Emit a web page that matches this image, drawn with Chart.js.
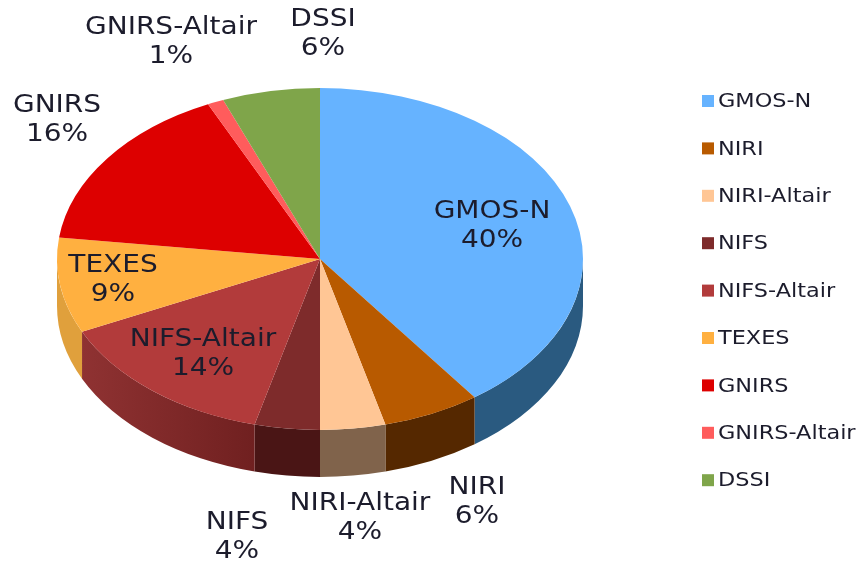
<!DOCTYPE html>
<html>
<head>
<meta charset="utf-8">
<style>
  html, body { margin: 0; padding: 0; background: #fff; }
  canvas { display: block; filter: blur(0.55px); }
</style>
<script src="https://cdn.jsdelivr.net/npm/chart.js@4"></script>
</head>
<body>
<canvas id="chart" width="862" height="564"></canvas>
<script>
const instruments = ['GMOS-N', 'NIRI', 'NIRI-Altair', 'NIFS', 'NIFS-Altair', 'TEXES', 'GNIRS', 'GNIRS-Altair', 'DSSI'];
const shares = [40, 6, 4, 4, 14, 9, 16, 1, 6];

const topColors = ['#66b3ff', '#b85a00', '#ffc695', '#7e2b2b', '#b23b3b', '#ffb040', '#dd0000', '#ff5c5c', '#7fa54a'];
const sideColors = [
  ['#2a5a80', '#2a5a80'], ['#552800', '#552800'], ['#80634b', '#80634b'],
  ['#4a1515', '#4a1515'], ['#702020', '#8f3232'], ['#e0a03c', '#e0a03c'],
  ['#6e0000', '#6e0000'], ['#802e2e', '#802e2e'], ['#405325', '#405325']
];

// label centres in page pixels, same order as instruments
const labelCentres = [
  [492, 226], [477, 502], [360, 518], [237, 537], [203, 354],
  [113, 280], [57, 120], [171, 42], [323, 34]
];

const SQUASH = 0.65;    // pie tilt
const CENTRE_Y = 259;   // where the pie centre ends up
const DEPTH = 47;
const TEXT_STRETCH = 1.12;
const LABEL_FONT = '25px "DejaVu Sans"';
const LEGEND_FONT = '20px "DejaVu Sans"';
const TEXT_COLOR = '#1c1c2c';

function stretchedText(ctx, text, x, y) {
  ctx.save();
  ctx.translate(x, y);
  ctx.scale(TEXT_STRETCH, 1);
  ctx.fillText(text, 0, 0);
  ctx.restore();
}

const tiltedPie = {
  id: 'tiltedPie',

  beforeDraw(chart) {
    // legend on the right
    const ctx = chart.ctx;
    const items = chart.options.plugins.legend.labels.generateLabels(chart);
    ctx.save();
    ctx.font = LEGEND_FONT;
    ctx.textBaseline = 'middle';
    ctx.textAlign = 'left';
    items.forEach((item, i) => {
      const y = 101 + i * 47.4;
      ctx.fillStyle = item.fillStyle;
      ctx.fillRect(702, y - 6, 12, 12);
      ctx.fillStyle = TEXT_COLOR;
      stretchedText(ctx, item.text, 718, y + 1);
    });
    ctx.restore();
  },

  beforeDatasetsDraw(chart) {
    const ctx = chart.ctx;
    const arcs = chart.getDatasetMeta(0).data;
    const cx = arcs[0].x;
    const cy = arcs[0].y;
    const rx = arcs[0].outerRadius;
    const ry = rx * SQUASH;

    // side wall, only the front half of the rim shows
    arcs.forEach((arc, i) => {
      const start = arc.startAngle;
      const end = arc.endAngle;
      const a0 = Math.max(start, 0);
      const a1 = Math.min(end, Math.PI);
      if (a1 <= a0) return;
      const x0 = cx + Math.cos(a1) * rx;
      const x1 = cx + Math.cos(a0) * rx;
      const grad = ctx.createLinearGradient(x0, 0, x1, 0);
      grad.addColorStop(0, sideColors[i][1]);
      grad.addColorStop(1, sideColors[i][0]);
      ctx.beginPath();
      ctx.ellipse(cx, CENTRE_Y, rx, ry, 0, a0, a1);
      ctx.ellipse(cx, CENTRE_Y + DEPTH, rx, ry, 0, a1, a0, true);
      ctx.closePath();
      ctx.fillStyle = grad;
      ctx.fill();
    });

    // arcs get drawn by the library, just squashed
    ctx.save();
    ctx.translate(0, CENTRE_Y);
    ctx.scale(1, SQUASH);
    ctx.translate(0, -cy);
  },

  afterDatasetsDraw(chart) {
    const ctx = chart.ctx;
    ctx.restore();

    ctx.save();
    ctx.font = LABEL_FONT;
    ctx.textAlign = 'center';
    ctx.textBaseline = 'middle';
    ctx.fillStyle = TEXT_COLOR;
    instruments.forEach((name, i) => {
      const [x, y] = labelCentres[i];
      stretchedText(ctx, name, x, y - 15);
      stretchedText(ctx, shares[i] + '%', x, y + 14);
    });
    ctx.restore();
  }
};

new Chart(document.getElementById('chart').getContext('2d'), {
  type: 'pie',
  data: {
    labels: instruments,
    datasets: [{
      data: shares,
      backgroundColor: topColors,
      borderWidth: 0,
      clip: false
    }]
  },
  plugins: [tiltedPie],
  options: {
    responsive: false,
    animation: false,
    layout: { padding: { left: 57, right: 279, top: 19, bottom: 19 } },
    plugins: {
      legend: { display: false },
      tooltip: { enabled: false }
    }
  }
});
</script>
</body>
</html>
